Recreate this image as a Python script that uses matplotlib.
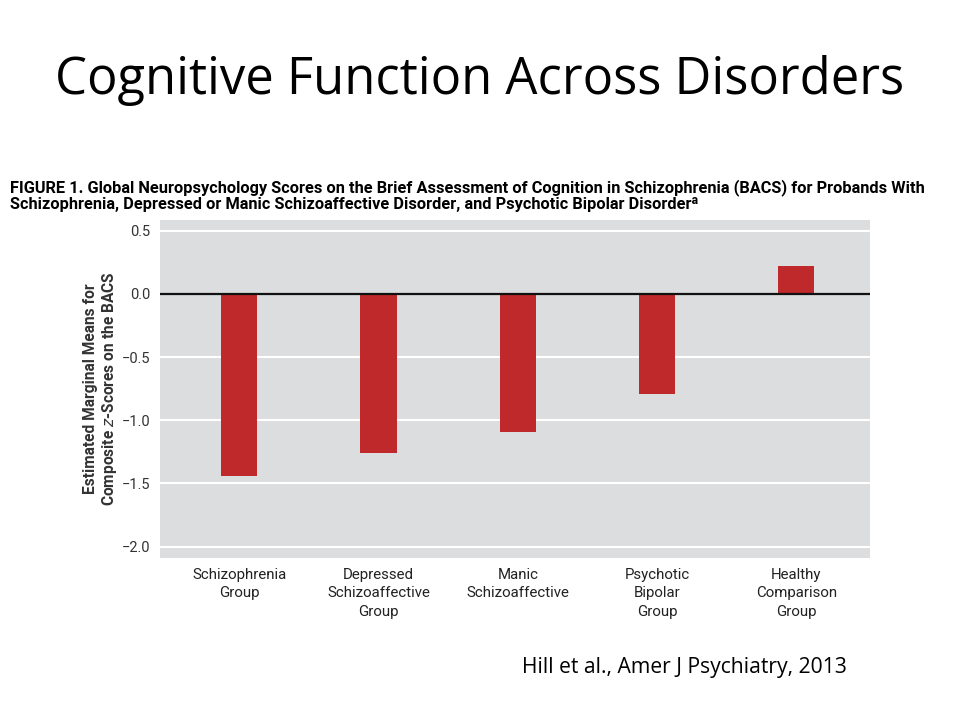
import matplotlib
matplotlib.use("Agg")
import matplotlib.pyplot as plt
import numpy as np

categories = ["Schizophrenia\nGroup", "Depressed\nSchizoaffective\nGroup", "Manic\nSchizoaffective",
              "Psychotic\nBipolar\nGroup", "Healthy\nComparison\nGroup"]
values = [-1.44, -1.26, -1.09, -0.79, 0.22]
yticks = [0.5, 0.0, -0.5, -1.0, -1.5, -2.0]
ytick_labels = ["0.5", "0.0", "\u22120.5", "\u22121.0", "\u22121.5", "\u22122.0"]

fig = plt.figure(figsize=(9.6, 7.2), dpi=100)
fig.patch.set_facecolor("white")

ax = fig.add_axes([160/960, 1-558/720, 710/960, 338/720])
ax.set_facecolor("#dcddde")
x = np.arange(len(categories))
for y in yticks:
    if y != 0:
        ax.axhline(y, color="white", lw=1.5, zorder=1)
ax.bar(x, values, width=0.26, color="#c0292b", zorder=2)
ax.axhline(0, color="#111111", lw=1.6, zorder=3)
ax.set_xlim(-0.57, 4.53)
ax.set_ylim(-2.09, 0.585)
ax.set_yticks(yticks)
ax.set_yticklabels(ytick_labels, fontsize=10.5, family="Roboto", color="#333333")
ax.set_xticks(x)
ax.set_xticklabels(categories, fontsize=10.8, family="Roboto", color="#222222", linespacing=1.4)
ax.tick_params(length=0, pad=7)
for s in ax.spines.values():
    s.set_visible(False)
ax.set_ylabel("Estimated Marginal Means for\nComposite $z$-Scores on the BACS", fontsize=11.2,
              fontweight="bold", color="#333333", family="Roboto", labelpad=2, linespacing=1.1)

fig.text(0.5, 1-80/720, "Cognitive Function Across Disorders", ha="center", va="center",
         fontsize=36.5, family="Open Sans")
caption = ("FIGURE 1. Global Neuropsychology Scores on the Brief Assessment of Cognition in Schizophrenia (BACS) for Probands With\n"
           "Schizophrenia, Depressed or Manic Schizoaffective Disorder, and Psychotic Bipolar Disorder\u1d43")
fig.text(10/960, 1-195.5/720, caption, ha="left", va="center", fontsize=11.8, fontweight="bold",
         family=["Roboto", "DejaVu Sans"], linespacing=1.05)
fig.text(684/960, 1-668/720, "Hill et al., Amer J Psychiatry, 2013", ha="center", va="center",
         fontsize=15.2, family="Open Sans")

fig.savefig("out.png", dpi=100)
